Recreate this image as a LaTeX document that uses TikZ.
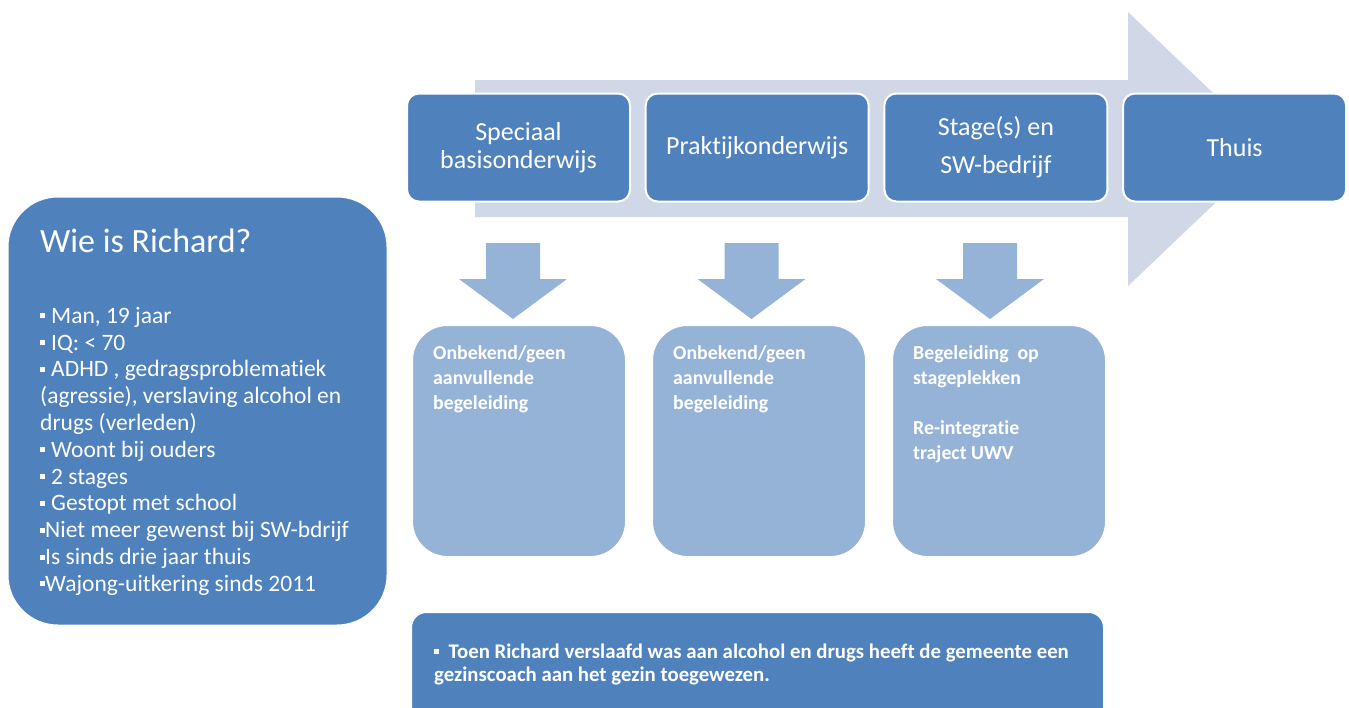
\documentclass[tikz,border=0pt]{standalone}
\usepackage{fontspec}
\setmainfont{Carlito}[Ligatures=NoCommon]
\usetikzlibrary{positioning}
\definecolor{donker}{RGB}{79,129,189}
\definecolor{licht}{RGB}{149,179,215}
\definecolor{grijsblauw}{RGB}{208,216,232}
\newcommand{\blokje}{\rule[5pt]{5pt}{5pt}}

\begin{document}
\begin{tikzpicture}[x=1pt,y=-1pt,
    fase/.style={rectangle,rounded corners=12pt,fill=donker,draw=white,line width=2pt,
      minimum width=223pt,minimum height=108pt,text=white,align=center,
      font=\fontsize{26}{28}\selectfont},
    steun/.style={rectangle,rounded corners=35pt,fill=licht,draw=white,line width=1pt,
      minimum width=213pt,minimum height=231pt},
    steuntekst/.style={inner sep=0pt,text=white,align=left,
      font=\bfseries\fontsize{19.8}{25}\selectfont}]
      \useasboundingbox (0,0) rectangle (1349,707);
      \clip (0,0) rectangle (1349,707);
      \fill[grijsblauw] (475,80) -- (1128,80) -- (1128,12) -- (1272,149)
        -- (1128,286) -- (1128,217) -- (475,217) -- cycle;

      \node[fase] (spec) at (518.5,147.5) {Speciaal\\basisonderwijs};
      \node[fase,right=13.7pt of spec] (prakt) {Praktijkonderwijs};
      \node[fase,right=13.7pt of prakt] (stage) {Stage(s) en\\[10pt]SW-bedrijf};
      \node[fase,right=13.7pt of stage] (thuis) {Thuis};

      \fill[licht] (486,243) -- ++(54,0) -- ++(0,36) -- ++(27,0) -- ++(-54,40)
        -- ++(-54,-40) -- ++(27,0) -- cycle;
      \fill[licht] (724.5,243) -- ++(54,0) -- ++(0,36) -- ++(27,0) -- ++(-54,40)
        -- ++(-54,-40) -- ++(27,0) -- cycle;
      \fill[licht] (963,243) -- ++(54,0) -- ++(0,36) -- ++(27,0) -- ++(-54,40)
        -- ++(-54,-40) -- ++(27,0) -- cycle;

      \node[steun,anchor=north west] (begA) at (412,325) {};
      \node[steun,right=26pt of begA] (begB) {};
      \node[steun,right=26pt of begB] (begC) {};
      \node[steuntekst,below right=20pt and 21pt of begA.north west] (tekstA)
        {Onbekend/geen\\aanvullende\\begeleiding};
      \node[steuntekst,below right=20pt and 21pt of begB.north west] (tekstB)
        {Onbekend/geen\\aanvullende\\begeleiding};
      \node[steuntekst,below right=20pt and 21pt of begC.north west] (tekstC)
        {Begeleiding~~op\\stageplekken\\[25pt]Re-integratie\\traject UWV};

      \node[rectangle,rounded corners=50pt,fill=donker,draw=white,line width=1pt,
        minimum width=379pt,minimum height=428pt] (info) at (197.5,411) {};
      \node[inner sep=0pt,anchor=base west,text=white,font=\fontsize{34}{38}\selectfont]
        (titel) at (40,252) {Wie is Richard?};
      \node[inner sep=0pt,anchor=north west,text=white,align=left,
        font=\fontsize{23.5}{26.8}\selectfont] (lijst) at (40,307)
        {\blokje\hspace{6pt}Man, 19 jaar\\
         \blokje\hspace{6pt}IQ: < 70\\
         \blokje\hspace{6pt}ADHD , gedragsproblematiek\\
         (agressie), verslaving alcohol en\\
         drugs (verleden)\\
         \blokje\hspace{6pt}Woont bij ouders\\
         \blokje\hspace{6pt}2 stages\\
         \blokje\hspace{6pt}Gestopt met school\\
         \blokje Niet meer gewenst bij SW-bdrijf\\
         \blokje Is sinds drie jaar thuis\\
         \blokje Wajong-uitkering sinds 2011};

      \node[rectangle,rounded corners=15pt,fill=donker,draw=white,line width=1pt,
        anchor=north west,minimum width=692pt,minimum height=130pt] (toen) at (411,612) {};
      \node[inner sep=0pt,anchor=north west,text=white,align=left,
        font=\bfseries\fontsize{20.8}{23}\selectfont] (toentekst) at (434,644)
        {\blokje~~Toen Richard verslaafd was aan alcohol en drugs heeft de gemeente een\\
         gezinscoach aan het gezin toegewezen.};
    \end{tikzpicture}
\end{document}
